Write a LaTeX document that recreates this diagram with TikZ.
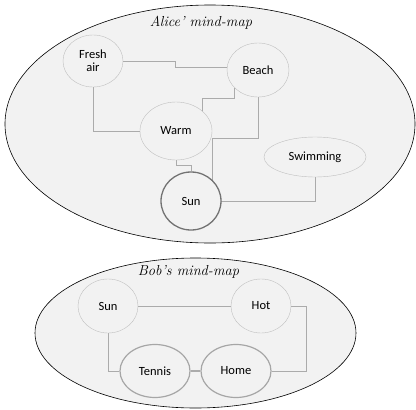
\documentclass[tikz,border=0pt]{standalone}
\usepackage{fontspec}
\newfontfamily\ideafont{Carlito}
\usepackage{tikz}
\usetikzlibrary{shapes.geometric, positioning}
\pgfdeclarelayer{back}
\pgfdeclarelayer{links}
\pgfsetlayers{back,links,main}
\definecolor{mapfill}{gray}{0.95}
\tikzset{
  x=1pt, y=-1pt, % one unit per pixel, y going down
  idea/.style={ellipse, draw=black!25, fill=mapfill, inner sep=0pt, align=center, font=\ideafont\fontsize{12.5}{13}\selectfont}, % every idea bubble
  main idea/.style={idea, draw=black!55, line width=1.3pt}, % the bubble of the central idea
  linked idea/.style={idea, draw=black!35, line width=1.2pt}, % bubbles joined by a strong link
  mind map/.style={ellipse, draw=black, fill=mapfill, inner sep=0pt, line width=0.6pt}, % the outer ellipse
  map title/.style={font=\fontsize{14.5}{15}\selectfont\itshape}, % title of a map
  link/.style={draw=black!33, line width=0.8pt}, % the connectors
}

\begin{document}
\begin{tikzpicture}
    \useasboundingbox (0,0) rectangle (416,410);
    % Alice
    \begin{pgfonlayer}{back}
      \node[mind map, minimum width=410, minimum height=238] (ALICE) at (210,124) {};
    \end{pgfonlayer}
    \node[map title] (ALICE_TITLE) at (201,23) {Alice' mind-map};
    \node[idea, minimum width=60, minimum height=52] (FRESH) at (93,61) {Fresh\\air};
    \node[idea, minimum width=62, minimum height=54] (BEACH) at (258,70) {Beach};
    \node[idea, minimum width=72, minimum height=58] (WARM) at (176,131) {Warm};
    \node[idea, minimum width=102, minimum height=40] (SWIMMING) at (315,157) {Swimming};
    \node[main idea, minimum width=60, minimum height=58] (SUN) at (191,201) {Sun};

    \begin{pgfonlayer}{links}
      \draw[link] (FRESH.east) -| (175,67) -- (BEACH.west |- 175,67);
      \draw[link] (FRESH.south) |- (WARM.west);
      \draw[link] (BEACH.218) |- (202,98) |- (WARM);
      \draw[link] (BEACH.south) |- (212,138) |- (SUN);
      \draw[link] (WARM.south) -- ++(0,5) -| (SUN.north);
      \draw[link] (SUN.east) -| (SWIMMING.south);
    \end{pgfonlayer}

    % Bob
    \begin{pgfonlayer}{back}
      \node[mind map, minimum width=321, minimum height=150] (BOB) at (195.5,333) {};
    \end{pgfonlayer}
    \node[map title] (BOB_TITLE) at (188.5,272) {Bob's mind-map};
    \node[idea, minimum width=60, minimum height=54] (BOB_SUN) at (108,306) {Sun};
    \node[idea, minimum width=60, minimum height=54] (HOT) at (261,306) {Hot};
    \node[linked idea, minimum width=70, minimum height=53] (TENNIS) at (155,371) {Tennis};
    \node[linked idea, minimum width=70, minimum height=53] (HOME) at (236,371) {Home};

    \begin{pgfonlayer}{links}
      \draw[link] (BOB_SUN.east) -- (HOT.west);
      \draw[link] (BOB_SUN.south) |- (TENNIS.west);
      \draw[link, line width=1.6pt] (TENNIS.east) -- (HOME.west);
      \draw[link] (HOT.east) -- ++(15,0) |- (HOME.east);
    \end{pgfonlayer}
\end{tikzpicture}
\end{document}
